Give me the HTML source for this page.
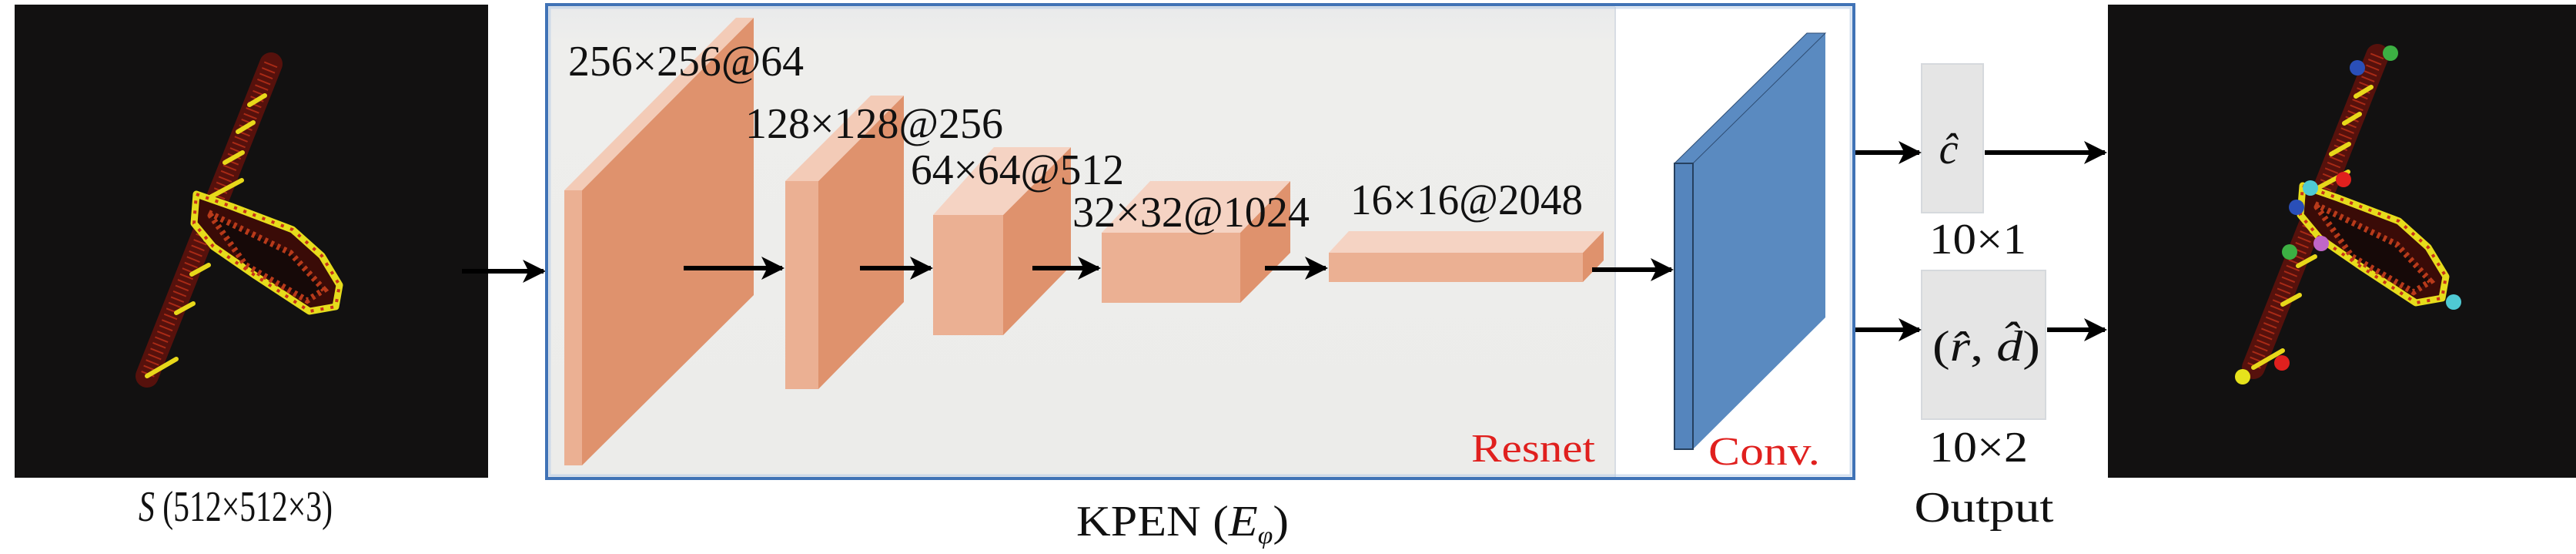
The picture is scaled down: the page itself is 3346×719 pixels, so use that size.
<!DOCTYPE html>
<html><head><meta charset="utf-8"><style>
html,body{margin:0;padding:0;background:#fff;}
svg{display:block;}
text{font-family:"Liberation Serif",serif;fill:#111;}
</style></head><body>
<svg width="3346" height="719" viewBox="0 0 3346 719" xmlns="http://www.w3.org/2000/svg">
<defs>
<linearGradient id="gr" x1="0" y1="0" x2="0" y2="1"><stop offset="0" stop-color="#e9eaeb"/><stop offset="0.08" stop-color="#eeeeec"/><stop offset="1" stop-color="#ececea"/></linearGradient>
<marker id="ah" viewBox="0 0 10 10" refX="9" refY="5" markerWidth="5" markerHeight="5" orient="auto" markerUnits="strokeWidth"><path d="M0,0 L10,5 L0,10 L2.5,5 z" fill="#000"/></marker>
<g id="sat">
 <path d="M333,77 L172,482" stroke="#5e120c" stroke-width="30" stroke-linecap="round" opacity="0.9"/>
 <path d="M333,77 L172,482" stroke="#a82a16" stroke-width="18" stroke-dasharray="2 6" />
 <g stroke="#e8d81a" stroke-width="6" stroke-linecap="round">
  <line x1="305" y1="130" x2="325" y2="118"/><line x1="290" y1="165" x2="310" y2="153"/>
  <line x1="273" y1="205" x2="296" y2="192"/><line x1="248" y1="305" x2="270" y2="293"/>
  <line x1="230" y1="350" x2="252" y2="338"/><line x1="210" y1="400" x2="232" y2="388"/>
  <line x1="172" y1="482" x2="210" y2="460"/><line x1="250" y1="252" x2="295" y2="228"/>
 </g>
 <path d="M236,246 L282,262 L361,292 L399,326 L422,364 L417,392 L383,398 L313,352 L258,314 L233,284 Z" fill="#3a0b07" stroke="#e6dc1c" stroke-width="9" stroke-linejoin="round"/>
 <path d="M252,270 L358,322 L402,370 L380,384 L300,338 Z" fill="#160908" stroke="#b83a1a" stroke-width="8" stroke-dasharray="4 5"/>
 <path d="M236,246 L282,262 L361,292 L399,326 L422,364 L417,392 L383,398 L313,352 L258,314 L233,284 Z" fill="none" stroke="#c8321a" stroke-width="4" stroke-dasharray="4 9"/>
</g>
</defs>

<rect x="19" y="6" width="615" height="614" fill="#121111"/>
<g transform="translate(19,6)"><use href="#sat"/></g>
<text x="306" y="676" font-size="56" text-anchor="middle" textLength="252" lengthAdjust="spacingAndGlyphs"><tspan font-style="italic">S</tspan> (512×512×3)</text>

<line x1="600" y1="352" x2="706" y2="352" stroke="#000" stroke-width="6" marker-end="url(#ah)"/>

<rect x="710" y="7" width="1388" height="614" fill="url(#gr)"/>
<rect x="2098" y="7" width="310" height="614" fill="#fff"/>
<line x1="2098" y1="9" x2="2098" y2="619" stroke="#d8dde4" stroke-width="2"/>
<rect x="710" y="6" width="1698" height="615" fill="none" stroke="#4073b6" stroke-width="4"/>
<rect x="714" y="10" width="1690" height="607" fill="none" stroke="#b9cde6" stroke-width="3" opacity="0.6"/>

<polygon points="756,247 979,23 979,383 756,604" fill="#df926d"/>
<polygon points="733,247 956,23 979,23 756,247" fill="#f3cbb7"/>
<rect x="733" y="247" width="23" height="357" fill="#ebb093"/>
<text x="738" y="98" font-size="56" textLength="306" lengthAdjust="spacingAndGlyphs">256×256@64</text>

<polygon points="1063,235 1174,124 1174,392 1063,505" fill="#df926d"/>
<polygon points="1020,235 1131,124 1174,124 1063,235" fill="#f3cbb7"/>
<rect x="1020" y="235" width="43" height="270" fill="#ebb093"/>
<text x="968" y="179" font-size="56" textLength="335" lengthAdjust="spacingAndGlyphs">128×128@256</text>

<polygon points="1303,279 1391,191 1391,345 1303,435" fill="#df926d"/>
<polygon points="1212,279 1291,191 1391,191 1303,279" fill="#f5d3c3"/>
<rect x="1212" y="279" width="91" height="156" fill="#ebb093"/>
<text x="1183" y="239" font-size="56" textLength="277" lengthAdjust="spacingAndGlyphs">64×64@512</text>

<polygon points="1611,302 1676,235 1676,328 1611,393" fill="#df926d"/>
<polygon points="1431,302 1494,235 1676,235 1611,302" fill="#f5d3c3"/>
<rect x="1431" y="302" width="180" height="91" fill="#ebb093"/>
<text x="1393" y="294" font-size="56" textLength="308" lengthAdjust="spacingAndGlyphs">32×32@1024</text>

<polygon points="2056,328 2083,300 2083,338 2056,366" fill="#df926d"/>
<polygon points="1726,328 1752,300 2083,300 2056,328" fill="#f5d3c3"/>
<rect x="1726" y="328" width="330" height="38" fill="#ebb093"/>
<text x="1754" y="278" font-size="56" textLength="302" lengthAdjust="spacingAndGlyphs">16×16@2048</text>

<g stroke="#000" stroke-width="6" marker-end="url(#ah)">
<line x1="888" y1="348" x2="1016" y2="348"/>
<line x1="1117" y1="348" x2="1209" y2="348"/>
<line x1="1341" y1="348" x2="1427" y2="348"/>
<line x1="1643" y1="348" x2="1722" y2="348"/>
<line x1="2068" y1="350" x2="2171" y2="350"/>
</g>

<polygon points="2199,212 2371,43 2371,412 2199,583" fill="#5a8ac0"/>
<polygon points="2175,212 2347,43 2371,43 2199,212" fill="#5b8bc2" stroke="#2f4d73" stroke-width="1"/>
<rect x="2175" y="212" width="24" height="371" fill="#5585bd" stroke="#26405f" stroke-width="2"/>

<text x="1911" y="599" font-size="52" style="fill:#e0201e" textLength="161" lengthAdjust="spacingAndGlyphs">Resnet</text>
<text x="2219" y="603" font-size="52" style="fill:#e0201e" textLength="145" lengthAdjust="spacingAndGlyphs">Conv.</text>

<text x="1398" y="695" font-size="56" textLength="276" lengthAdjust="spacingAndGlyphs">KPEN (<tspan font-style="italic">E</tspan><tspan font-style="italic" font-size="32" dy="10">φ</tspan><tspan dy="-10">)</tspan></text>

<rect x="2496" y="83" width="80" height="193" fill="#e5e5e5" stroke="#d6d9dd" stroke-width="2"/>
<text x="2531" y="212" font-size="56" font-style="italic" text-anchor="middle">ĉ</text>
<rect x="2496" y="351" width="161" height="193" fill="#e5e5e5" stroke="#d6d9dd" stroke-width="2"/>
<text x="2580" y="468" font-size="56" text-anchor="middle" textLength="140" lengthAdjust="spacingAndGlyphs">(<tspan font-style="italic">r̂</tspan>, <tspan font-style="italic">d̂</tspan>)</text>

<g stroke="#000" stroke-width="6" marker-end="url(#ah)">
<line x1="2410" y1="198" x2="2493" y2="198"/>
<line x1="2578" y1="198" x2="2734" y2="198"/>
<line x1="2410" y1="428" x2="2493" y2="428"/>
<line x1="2659" y1="428" x2="2734" y2="428"/>
</g>

<text x="2569" y="329" font-size="56" text-anchor="middle" textLength="126" lengthAdjust="spacingAndGlyphs">10×1</text>
<text x="2570" y="599" font-size="56" text-anchor="middle" textLength="128" lengthAdjust="spacingAndGlyphs">10×2</text>
<text x="2577" y="677" font-size="56" text-anchor="middle" textLength="181" lengthAdjust="spacingAndGlyphs">Output</text>

<rect x="2738" y="6" width="608" height="614" fill="#121111"/>
<g transform="translate(2755,-5)"><use href="#sat"/></g>
<g>
<circle cx="3105" cy="69" r="10" fill="#3cb043"/>
<circle cx="3062" cy="88" r="10" fill="#2a4fb8"/>
<circle cx="3044" cy="233" r="10" fill="#e0201e"/>
<circle cx="3001" cy="244" r="10" fill="#4fc9d3"/>
<circle cx="2983" cy="269" r="10" fill="#2a4fb8"/>
<circle cx="3015" cy="316" r="10" fill="#c066c8"/>
<circle cx="2974" cy="327" r="10" fill="#3cb043"/>
<circle cx="3187" cy="392" r="10" fill="#4fc9d3"/>
<circle cx="2964" cy="471" r="10" fill="#e0201e"/>
<circle cx="2913" cy="489" r="10" fill="#e6e21c"/>
</g>
</svg>
</body></html>
